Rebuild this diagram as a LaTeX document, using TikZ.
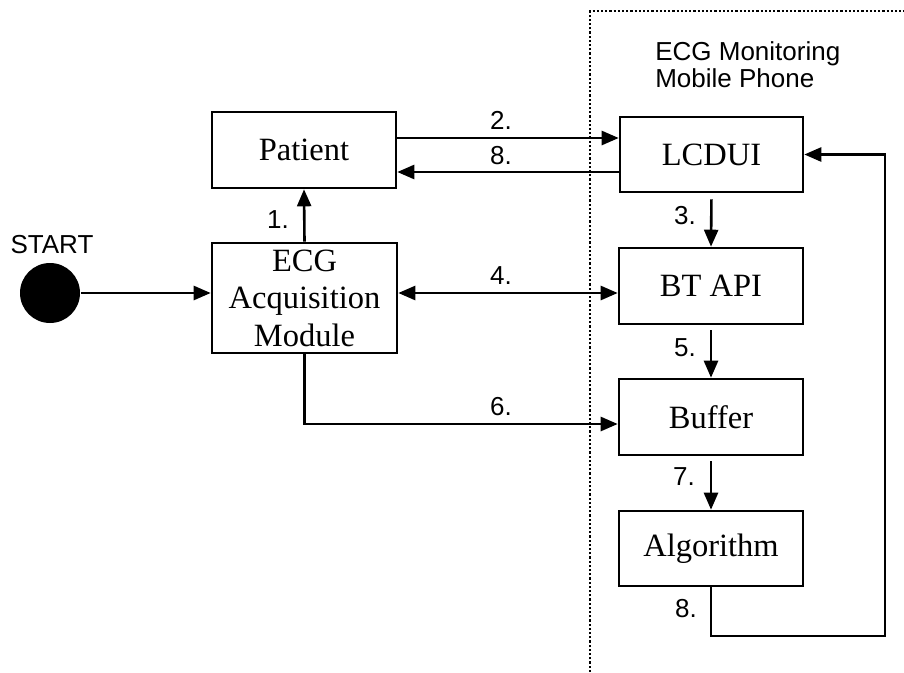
\documentclass[tikz,border=0pt]{standalone}
\usepackage{fontspec}
\setmainfont{Liberation Serif}
\setsansfont{Liberation Sans}
\usetikzlibrary{arrows.meta}

\begin{document}
\begin{tikzpicture}
        [x=1pt, y=-1pt, line width=2.6pt,
         >={Triangle[length=17pt, width=14pt]},
         block/.style={rectangle, draw, minimum width=184pt, minimum height=76pt,
                       inner sep=0pt, align=center, font=\fontsize{32.5}{37.5}\selectfont},
         num/.style={inner sep=0pt, font=\sffamily\fontsize{26}{27}\selectfont}]
        \useasboundingbox (0,0) rectangle (904,672);
        \draw [dotted, line width=2.2pt] (590,672) -- (590,11) -- (904,11);
        \node (phone) at (654,40) [num, anchor=north west, align=left] {ECG Monitoring\\Mobile Phone};

        \node (start)     at ( 50,293) [circle, fill, minimum size=60pt, inner sep=0pt] {};
        \node (startlbl)  at ( 52,245) [num] {START};
        \node (patient)   at (304,150) [block] {Patient};
        \node (ecg)       at (304.5,298) [block, minimum width=185pt, minimum height=110pt] {ECG\\Acquisition\\Module};
        \node (lcdui)     at (711.5,154.5) [block, minimum width=183pt, minimum height=75pt] {LCDUI};
        \node (btapi)     at (711,286) [block] {BT API};
        \node (buffer)    at (711,417) [block] {Buffer};
        \node (algorithm) at (711,548.5) [block, minimum height=75pt] {Algorithm};
        \coordinate (loop) at (885,636);

        \draw [->] (start) -- (start -| ecg.west);
        \draw [->] (ecg.north) -- (patient.south);
        \draw [->] ([yshift=12pt]patient.east) -- ([yshift=12pt]patient.east -| lcdui.west);
        \draw [->] ([yshift=-17.5pt]lcdui.west) -- ([yshift=-17.5pt]lcdui.west -| patient.east);
        \draw [->, shorten <=6pt] (lcdui.south) -- (btapi.north);
        \draw [<->] ([yshift=5pt]ecg.east) -- ([yshift=5pt]ecg.east -| btapi.west);
        \draw [->, shorten <=5pt] (btapi.south) -- (buffer.north);
        \draw [->] (ecg.south) |- ([yshift=-7pt]buffer.west);
        \draw [->, shorten <=5pt] (buffer.south) -- (algorithm.north);
        \draw [->] (algorithm.south) |- (loop) |- (lcdui.east);

        \node (l1)  at (278,220) [num] {1.};
        \node (l2)  at (501,120) [num] {2.};
        \node (l8a) at (501,156) [num] {8.};
        \node (l3)  at (685,216) [num] {3.};
        \node (l4)  at (501,276) [num] {4.};
        \node (l5)  at (685,348) [num] {5.};
        \node (l6)  at (501,407) [num] {6.};
        \node (l7)  at (684,477) [num] {7.};
        \node (l8b) at (686,609) [num] {8.};
\end{tikzpicture}
\end{document}
